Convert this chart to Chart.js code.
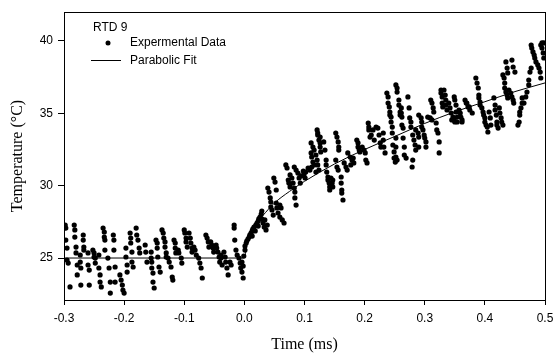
<!DOCTYPE html>
<html>
<head>
<meta charset="utf-8">
<script src="https://cdn.jsdelivr.net/npm/chart.js@4"></script>
<style>
  html, body { margin: 0; padding: 0; background: #fff; }
  canvas { display: block; }
</style>
</head>
<body>
<canvas id="chart" width="555" height="354"></canvas>
<script>
// tick labels
const xTicks = [-0.3, -0.2, -0.1, 0.0, 0.1, 0.2, 0.3, 0.4, 0.5];
const yTicks = [25, 30, 35, 40];

const baselineData = [
  [-0.298,27.28],[-0.297,27.07],[-0.297,26.24],[-0.295,25.69],[-0.295,24.86],[-0.293,24.65],
  [-0.290,23.00],
  [-0.283,27.28],[-0.282,26.94],[-0.282,26.45],[-0.280,25.76],[-0.280,25.35],[-0.278,24.52],[-0.278,23.83],
  [-0.273,25.21],[-0.273,24.72],[-0.272,24.31],[-0.272,23.13],
  [-0.268,26.59],[-0.268,26.24],[-0.267,25.76],[-0.267,25.55],
  [-0.260,25.35],[-0.260,24.52],[-0.258,24.17],[-0.258,23.13],
  [-0.252,25.55],[-0.250,25.35],[-0.250,25.07],[-0.248,25.00],[-0.248,24.65],
  [-0.242,25.21],[-0.242,24.31],[-0.240,23.83],[-0.240,23.34],[-0.238,23.00],
  [-0.235,27.07],[-0.233,26.80],[-0.233,26.45],[-0.232,26.24],[-0.232,25.55],
  [-0.227,25.00],[-0.225,24.31],[-0.223,23.34],[-0.223,22.58],
  [-0.218,26.59],[-0.217,26.24],[-0.217,25.55],[-0.215,24.38],[-0.215,23.34],
  [-0.207,23.83],[-0.205,23.48],[-0.203,23.13],[-0.202,22.79],[-0.200,22.58],
  [-0.197,25.69],[-0.197,25.07],[-0.195,24.52],[-0.195,24.03],
  [-0.190,26.73],[-0.189,26.38],[-0.189,26.04],[-0.187,25.41],[-0.187,24.72],[-0.185,24.38],
  [-0.180,27.07],[-0.179,26.59],[-0.177,26.24],[-0.175,25.69],[-0.174,25.35],
  [-0.165,25.90],[-0.164,25.41],[-0.162,24.72],
  [-0.155,25.41],[-0.155,25.00],[-0.154,24.72],[-0.154,24.31],[-0.152,23.96],[-0.152,23.34],[-0.150,22.93],
  [-0.147,26.24],[-0.145,26.04],[-0.145,25.69],[-0.144,25.07],[-0.142,24.38],[-0.140,24.03],
  [-0.137,26.94],[-0.135,26.73],[-0.134,26.38],[-0.132,26.11],[-0.132,25.76],[-0.130,25.35],[-0.130,25.07],
  [-0.127,25.00],[-0.125,24.72],
  [-0.122,24.38],[-0.120,23.69],[-0.119,23.48],
  [-0.117,26.24],[-0.115,26.04],[-0.115,25.69],[-0.114,25.35],
  [-0.110,25.55],[-0.109,25.35],[-0.105,25.00],[-0.104,24.65],
  [-0.100,26.94],[-0.099,26.73],[-0.097,26.38],[-0.097,26.11],[-0.095,25.76],
  [-0.092,26.73],[-0.090,26.38],[-0.089,26.04],[-0.087,25.69],[-0.087,25.41],
  [-0.084,25.76],[-0.082,25.55],[-0.080,25.21],
  [-0.076,25.00],[-0.074,24.65],[-0.072,24.31],[-0.070,23.62],
  [-0.064,26.59],[-0.062,26.38],[-0.060,26.11],[-0.059,25.76],
  [-0.056,26.11],[-0.054,25.90],[-0.052,25.69],[-0.051,25.41],
  [-0.047,25.90],[-0.046,25.69],[-0.044,25.41],[-0.042,25.07],[-0.041,24.72],
  [-0.039,25.21],[-0.039,25.00],[-0.037,24.52],
  [-0.034,25.41],[-0.032,25.07],[-0.031,24.72],[-0.029,24.31],[-0.027,23.83],
  [-0.024,24.72],[-0.022,24.52],
  [-0.017,27.28],[-0.017,27.07],[-0.016,26.24],[-0.014,25.55],[-0.012,25.21],
  [-0.009,25.00],[-0.007,24.65],[-0.006,24.31],[-0.004,24.03],[-0.002,23.62]
];

const riseData = [
  [-0.004,24.72],[-0.002,24.45],[-0.001,25.14],[0.001,25.55],[0.001,25.83],[0.003,26.04],[0.004,26.17],
  [0.006,26.31],[0.008,26.45],[0.009,26.59],[0.011,26.73],[0.013,26.87],[0.013,26.52],[0.014,27.00],
  [0.016,27.14],[0.018,26.87],[0.019,27.28],[0.021,27.42],[0.023,27.56],[0.023,27.21],[0.024,27.70],
  [0.026,27.83],[0.028,28.04],[0.029,28.25],[0.029,27.70],
  [0.031,27.42],[0.033,27.14],[0.036,26.94],[0.034,27.63],[0.038,27.28],
  [0.039,29.84],[0.041,29.56],[0.043,29.15],[0.044,28.87],[0.044,28.52],[0.046,28.32],[0.048,27.97],
  [0.049,30.53],[0.051,30.25],[0.053,29.70],[0.053,28.80],[0.054,28.46],
  [0.056,28.11],[0.059,27.83],[0.063,27.63],[0.066,27.42],[0.059,28.66],[0.061,28.46],
  [0.069,31.43],[0.071,31.22],[0.073,30.39],[0.074,30.18],[0.076,29.91],[0.076,30.74],[0.079,30.53],
  [0.081,30.18],[0.083,29.84],[0.084,29.56],[0.084,29.15],[0.086,28.66],[0.083,31.29],[0.086,31.08],
  [0.089,30.87],[0.091,30.53],[0.093,30.18],[0.094,30.67],[0.098,31.01],[0.099,30.74],[0.101,30.53],
  [0.102,30.94],[0.106,31.22],[0.109,31.08],[0.112,31.29],[0.116,31.43],[0.119,30.94],
  [0.111,32.26],[0.112,31.98],[0.114,31.63],[0.111,32.95],[0.114,32.67],[0.116,32.46],
  [0.121,33.85],[0.122,33.50],[0.124,33.15],[0.126,32.95],[0.126,32.67],[0.127,32.33],[0.122,33.64],[0.126,33.36],
  [0.119,32.12],[0.121,31.77],[0.122,31.43],[0.124,31.08],
  [0.132,33.02],[0.134,32.46],[0.136,31.77],[0.136,31.43],[0.137,30.94],
  [0.139,30.60],[0.139,30.39],[0.141,30.18],[0.142,29.91],[0.142,29.70],[0.144,30.53],[0.146,30.18],
  [0.147,29.91],[0.147,30.39],
  [0.152,33.64],[0.154,33.36],[0.156,33.02],[0.157,32.67],[0.157,32.46],
  [0.152,31.77],[0.154,31.29],[0.156,31.08],
  [0.161,30.60],[0.161,30.18],[0.162,29.70],[0.162,29.49],[0.164,29.01],
  [0.166,31.57],[0.169,31.29],[0.171,31.08],
  [0.172,32.26],[0.176,31.98],[0.179,31.77],[0.182,31.57],[0.177,31.43],[0.181,31.91],
  [0.187,33.15],[0.189,32.95],[0.189,32.67],[0.191,32.46],[0.192,32.33]
];

const lateData = [
  [0.196,32.67],[0.199,32.46],[0.201,32.26],[0.202,31.77],[0.204,31.57],
  [0.206,34.33],[0.207,34.05],[0.207,33.85],[0.209,33.36],
  [0.211,33.50],[0.214,33.85],[0.216,33.15],[0.219,34.05],[0.222,33.98],[0.224,33.50],[0.226,32.95],[0.227,32.67],
  [0.231,33.64],[0.231,33.15],[0.232,32.67],[0.234,32.26],
  [0.237,36.40],[0.239,36.13],[0.239,35.71],[0.241,35.44],[0.242,35.09],[0.242,34.88],
  [0.244,34.40],[0.244,34.74],[0.246,34.05],[0.246,33.64],[0.247,32.81],[0.249,32.33],[0.249,31.91],[0.251,31.63],
  [0.252,36.96],[0.254,36.75],[0.254,36.47],[0.257,35.92],[0.257,35.57],[0.259,35.09],[0.259,34.88],
  [0.252,33.29],[0.252,32.67],[0.252,31.98],[0.254,31.77],
  [0.261,35.37],[0.261,35.02],[0.262,34.74],[0.262,34.19],[0.264,33.98],
  [0.264,33.29],[0.266,32.67],[0.266,32.12],[0.269,31.91],
  [0.272,36.13],[0.274,35.37],[0.275,34.68],[0.277,34.40],[0.277,34.05],
  [0.279,31.29],[0.280,31.77],
  [0.280,33.50],[0.282,33.15],[0.284,32.81],[0.285,32.46],
  [0.285,33.85],[0.289,33.64],[0.290,33.36],[0.290,32.67],
  [0.290,34.88],[0.294,34.68],[0.295,34.40],[0.295,34.05],
  [0.297,33.85],[0.299,33.50],[0.300,33.29],[0.302,33.02],[0.302,32.67],
  [0.305,34.74],[0.309,34.68],[0.312,34.54],
  [0.310,35.92],[0.312,35.71],[0.314,35.37],[0.315,35.09],
  [0.319,34.33],[0.320,33.85],[0.322,33.64],[0.324,33.02],[0.324,32.26],
  [0.327,36.61],[0.327,36.40],[0.329,36.13],[0.329,35.71],[0.330,35.44],
  [0.332,36.61],[0.334,36.26],[0.335,35.92],[0.335,35.57],[0.337,35.23],
  [0.340,35.71],[0.342,35.37],[0.344,35.02],[0.345,34.54],
  [0.347,34.74],[0.349,34.54],[0.350,34.40],
  [0.349,36.13],[0.350,35.92],[0.352,35.57],[0.352,35.09],[0.354,34.74],[0.354,34.40],
  [0.357,35.23],[0.359,35.02],[0.360,34.74],[0.362,34.54],[0.362,34.40],
  [0.367,35.92],[0.370,35.71],[0.374,35.44],
  [0.369,35.71],[0.372,35.44],[0.375,35.23],[0.379,35.02],
  [0.385,37.44],[0.387,37.09],[0.389,36.75],[0.390,36.26],[0.390,36.06],[0.392,35.78],
  [0.392,35.57],[0.395,35.37],[0.397,35.09],[0.398,34.88],[0.400,34.68],
  [0.400,34.40],[0.402,34.19],[0.404,34.05],[0.405,33.71],
  [0.407,35.09],[0.409,34.68],[0.410,34.19],
  [0.415,36.06],[0.417,35.57],[0.417,35.23],[0.419,34.88],[0.420,34.40],[0.420,34.19],[0.422,33.98],
  [0.424,35.37],[0.425,35.02],[0.427,34.68],[0.428,34.40],[0.430,34.19],
  [0.430,37.65],[0.432,37.44],[0.433,37.09],[0.433,36.75],[0.435,36.47],[0.437,36.26],[0.438,36.06],
  [0.435,38.55],[0.437,38.13],[0.438,37.79],
  [0.440,36.61],[0.443,36.40],[0.445,36.13],[0.447,35.92],[0.448,35.71],
  [0.445,38.68],[0.447,38.20],[0.450,37.85],
  [0.455,34.19],[0.457,34.40],[0.458,34.88],[0.458,35.09],[0.460,35.37],[0.462,35.71],[0.462,36.06],
  [0.465,35.71],[0.468,36.13],[0.470,36.47],[0.473,36.96],
  [0.473,37.30],[0.475,37.85],[0.477,38.13],
  [0.477,39.72],[0.478,39.51],[0.480,39.24],[0.482,39.03],[0.483,38.82],[0.485,38.55],
  [0.488,38.34],[0.490,38.13],[0.492,37.85],[0.493,37.44],
  [0.493,39.72],[0.495,39.51],[0.497,39.17],[0.498,38.82],
  [0.495,39.86],[0.498,39.86]
];

// parabolic fit
const fitTime = [-0.3, 0, 0.005, 0.01, 0.02, 0.03, 0.05, 0.075, 0.1, 0.15, 0.2, 0.25, 0.3, 0.35, 0.4, 0.45, 0.5];
const fitTemp = [25, 25, 26.2, 26.7, 27.4, 27.9, 28.8, 29.6, 30.3, 31.5, 32.5, 33.4, 34.3, 35.1, 35.8, 36.5, 37.1];

const legendTitle = "RTD 9";

const expPoints = baselineData.concat(riseData, lateData).map(p => ({ x: p[0], y: p[1] }));
const fitPoints = fitTime.map((t, i) => ({ x: t, y: fitTemp[i] }));

const SANS = "'Liberation Sans', Arial, sans-serif";
const SERIF = "'Liberation Serif', 'Times New Roman', serif";

// box around plot area + the little legend in the corner
const framePlugin = {
  id: "frame",
  afterDraw(chart) {
    const { ctx, chartArea: a } = chart;
    ctx.save();
    ctx.strokeStyle = "#000";
    ctx.lineWidth = 1;
    ctx.strokeRect(a.left + 0.5, a.top + 0.5, a.right - a.left, a.bottom - a.top);

    ctx.fillStyle = "#000";
    ctx.font = "12px " + SANS;
    ctx.textBaseline = "middle";
    ctx.textAlign = "left";
    ctx.fillText(legendTitle, 93, 28);
    ctx.beginPath();
    ctx.arc(108, 43, 2.5, 0, Math.PI * 2);
    ctx.fill();
    ctx.fillText(chart.data.datasets[1].label, 130, 43);
    ctx.beginPath();
    ctx.moveTo(91, 60.5);
    ctx.lineTo(121, 60.5);
    ctx.stroke();
    ctx.fillText(chart.data.datasets[0].label, 130, 61);
    ctx.restore();
  },
};

new Chart(document.getElementById("chart"), {
  type: "scatter",
  data: {
    datasets: [
      {
        label: "Parabolic Fit",
        type: "line",
        data: fitPoints,
        borderColor: "#000",
        borderWidth: 1,
        pointRadius: 0,
        cubicInterpolationMode: "monotone",
        fill: false,
      },
      {
        label: "Expermental Data",
        data: expPoints,
        backgroundColor: "#000",
        borderWidth: 0,
        pointRadius: 2.6,
        pointHoverRadius: 2.6,
      },
    ],
  },
  options: {
    responsive: false,
    animation: false,
    devicePixelRatio: 1,
    layout: { padding: { left: 0, right: 10, top: 12, bottom: 0 } },
    plugins: {
      legend: { display: false },
      tooltip: { enabled: false },
    },
    scales: {
      x: {
        type: "linear",
        min: -0.3,
        max: 0.5,
        afterBuildTicks: (s) => { s.ticks = xTicks.map(v => ({ value: v })); },
        afterFit: (s) => { s.height = 54; s.paddingLeft = 0; s.paddingRight = 0; },
        grid: { drawOnChartArea: false, color: "#000", tickLength: 5 },
        border: { color: "#000", width: 1 },
        ticks: {
          autoSkip: false,
          maxRotation: 0,
          color: "#000",
          padding: 6,
          font: { family: SANS, size: 12 },
          callback: (v) => (Math.abs(v) < 1e-9 ? 0 : v).toFixed(1),
        },
        title: {
          display: true,
          text: "Time (ms)",
          color: "#000",
          font: { family: SERIF, size: 16 },
          padding: { top: 0, bottom: 0 },
        },
      },
      y: {
        type: "linear",
        min: 22.1,
        max: 42,
        afterBuildTicks: (s) => { s.ticks = yTicks.map(v => ({ value: v })); },
        afterFit: (s) => { s.width = 64; s.paddingTop = 0; s.paddingBottom = 0; },
        grid: { drawOnChartArea: false, color: "#000", tickLength: 6 },
        border: { color: "#000", width: 1 },
        ticks: {
          autoSkip: false,
          color: "#000",
          padding: 5,
          font: { family: SANS, size: 12 },
        },
        title: {
          display: true,
          text: "Temperature (°C)",
          color: "#000",
          font: { family: SERIF, size: 16 },
          padding: { top: 8, bottom: 0 },
        },
      },
    },
  },
  plugins: [framePlugin],
});
</script>
</body>
</html>
